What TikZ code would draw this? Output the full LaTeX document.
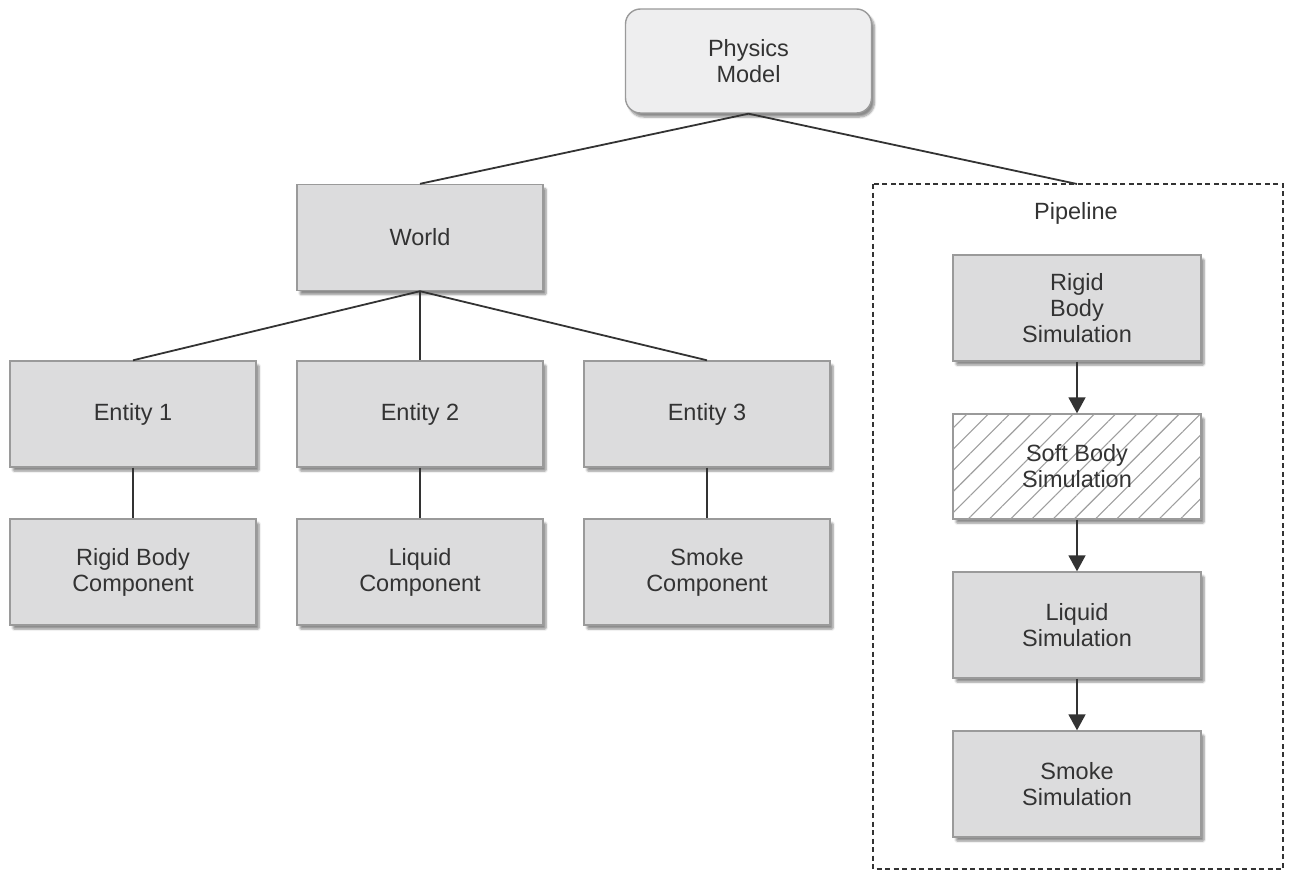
\documentclass[tikz,border=0pt]{standalone}
\usepackage{fontspec}
\setmainfont{Liberation Sans}
\usetikzlibrary{arrows.meta,shadows.blur,patterns.meta}
\definecolor{boxfill}{HTML}{DCDCDD}
\definecolor{topfill}{HTML}{EEEEEF}
\definecolor{boxedge}{HTML}{9A9A9A}
\definecolor{inktext}{HTML}{333333}
\definecolor{wire}{HTML}{333333}
\tikzset{
  x=1pt, y=-1pt,
  label text/.style={text=inktext, font=\fontsize{23.5}{26}\selectfont},
  base/.style={draw=boxedge, line width=1.4pt, label text, align=center, inner sep=0pt,
    blur shadow={shadow xshift=3pt, shadow yshift=-4pt, shadow blur steps=6,
      shadow blur extra rounding=1pt, shadow opacity=45}},
  box/.style={base, fill=boxfill, minimum width=246pt, minimum height=106pt},
  rootbox/.style={base, fill=topfill, rounded corners=15pt, minimum width=246pt, minimum height=104pt},
  hatchbox/.style={base, fill=white, minimum width=248pt, minimum height=105pt,
    postaction={pattern={Lines[angle=45,distance=15pt,line width=1.1pt]}, pattern color=black!38}},
  link/.style={draw=wire, line width=1.8pt},
  flow/.style={link, -{Triangle[width=17pt,length=16pt]}},
  group/.style={draw=wire, line width=2pt, dash pattern=on 5pt off 3.5pt}
}
\begin{document}
\begin{tikzpicture}
\useasboundingbox (0,0) rectangle (1293,872);

% pipeline frame
\draw[group] (873,184) rectangle (1283,869);
\coordinate (pipetop) at (1077,184);
\node[label text] (pipelbl) at (1076,213) {Pipeline};

% hierarchy
\node[rootbox] (phys) at (748.5,61) {Physics\\Model};
\node[box] (world) at (420,237.5) {World};
\node[box] (e1) at (133,414) {Entity 1};
\node[box] (e2) at (420,414) {Entity 2};
\node[box] (e3) at (707,414) {Entity 3};
\node[box] (c1) at (133,572) {Rigid Body\\Component};
\node[box] (c2) at (420,572) {Liquid\\Component};
\node[box] (c3) at (707,572) {Smoke\\Component};

% pipeline stages
\node[box, minimum width=248pt] (rbs) at (1077,308) {Rigid\\Body\\Simulation};
\node[hatchbox] (sbs) at (1077,466.5) {Soft Body\\Simulation};
\node[box, minimum width=248pt] (lqs) at (1077,625) {Liquid\\Simulation};
\node[box, minimum width=248pt] (sms) at (1077,784) {Smoke\\Simulation};

% connectors
\draw[link] (world.north) -- (phys.south) -- (pipetop);
\draw[link] (e1.north) -- (world.south) -- (e3.north);
\draw[link] (world.south) -- (e2.north);
\draw[link] (e1) -- (c1);
\draw[link] (e2) -- (c2);
\draw[link] (e3) -- (c3);
\draw[flow] (rbs) -- (sbs);
\draw[flow] (sbs) -- (lqs);
\draw[flow] (lqs) -- (sms);
\end{tikzpicture}
\end{document}
